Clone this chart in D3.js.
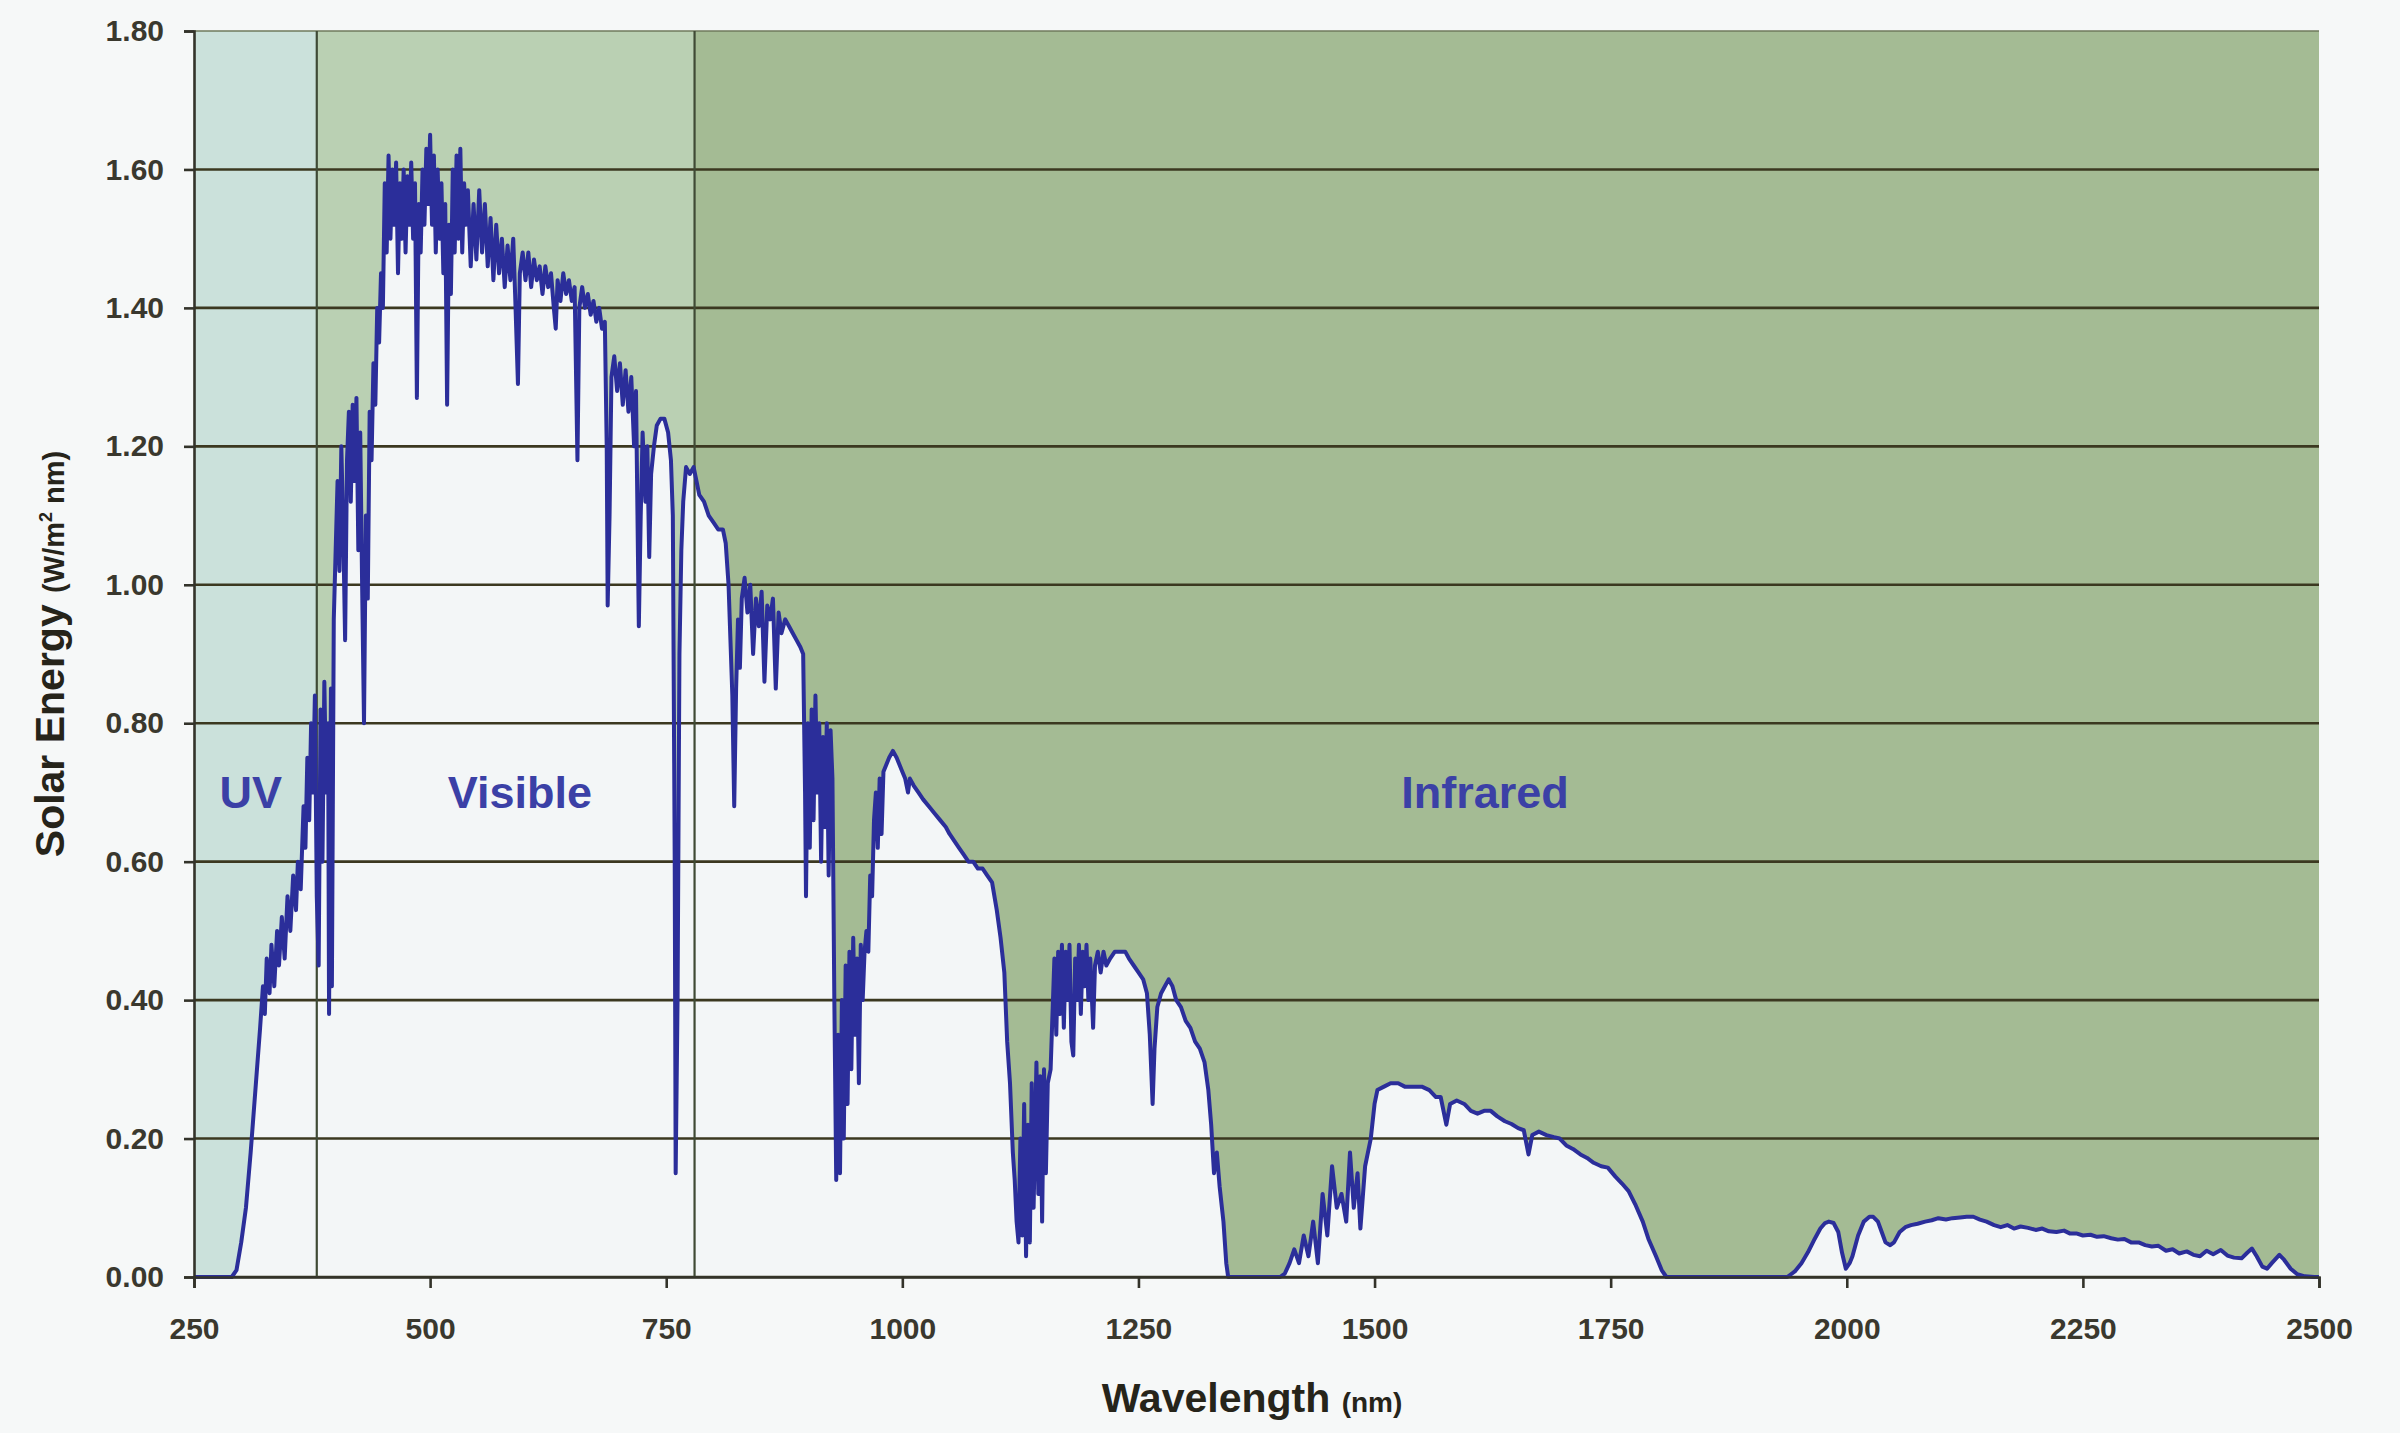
<!DOCTYPE html>
<html>
<head>
<meta charset="utf-8">
<script src="https://cdn.jsdelivr.net/npm/d3@7"></script>
<style>
  html, body { margin: 0; padding: 0; background: #f6f8f8; }
  svg { display: block; }
</style>
</head>
<body>
<svg id="chart" width="2400" height="1433"></svg>
<script>
// ---------- DATA ----------
const xTicks = [250, 500, 750, 1000, 1250, 1500, 1750, 2000, 2250, 2500];
const yTicks = [0, 0.2, 0.4, 0.6, 0.8, 1.0, 1.2, 1.4, 1.6, 1.8];
const bandNames = ["UV", "Visible", "Infrared"];
const bandEdges = [250, 380, 780, 2500];           // nm
const bandLabelAt = [310, 595, 1617];               // nm (label centre)
const bandLabelValue = 0.695;                       // W/m² nm

// spectrum: [wavelength nm, energy W/m² nm]
const spectrumUV = [
  [250,0],[280,0],[290,0],[295,0.01],[300,0.05],[305,0.10],[310,0.18],[315,0.27],[320,0.36],
  [323,0.42],[325,0.38],[327,0.46],[330,0.41],[332,0.48],[335,0.42],[338,0.50],[340,0.45],
  [343,0.52],[346,0.46],[349,0.55],[352,0.50],[355,0.58],[358,0.53],[360,0.60],[363,0.56],
  [366,0.68],[368,0.62],[370,0.75],[372,0.66],[374,0.80],[376,0.70],[378,0.84],[380,0.55]
];
const spectrumVisible = [
  [382,0.45],[384,0.82],[386,0.60],[388,0.86],[390,0.70],[392,0.80],[393,0.38],[395,0.85],
  [396,0.42],[398,0.95],[400,1.05],[402,1.15],[404,1.02],[406,1.20],[408,1.08],[410,0.92],
  [412,1.18],[414,1.25],[416,1.12],[418,1.26],[420,1.15],[422,1.27],[424,1.05],[426,1.22],
  [428,1.00],[430,0.80],[432,1.10],[434,0.98],[436,1.25],[438,1.18],[440,1.32],[442,1.26],
  [444,1.40],[446,1.35],[448,1.45],[450,1.40],[452,1.58],[454,1.48],[456,1.62],[458,1.50],
  [460,1.60],[462,1.52],[464,1.61],[466,1.45],[468,1.58],[470,1.50],[472,1.60],[474,1.48],
  [476,1.59],[478,1.52],[480,1.61],[482,1.50],[484,1.58],[486,1.27],[488,1.55],[490,1.48],
  [492,1.60],[494,1.52],[496,1.63],[498,1.55],[500,1.65],[502,1.52],[504,1.62],[506,1.48],
  [508,1.60],[510,1.50],[512,1.58],[514,1.45],[516,1.55],[518,1.26],[520,1.52],[522,1.42],
  [524,1.60],[526,1.48],[528,1.62],[530,1.50],[532,1.63],[534,1.48],[536,1.58],[538,1.52],
  [540,1.57],[543,1.46],[546,1.55],[549,1.47],[552,1.57],[555,1.48],[558,1.55],[561,1.46],
  [564,1.53],[567,1.44],[570,1.52],[573,1.45],[576,1.50],[579,1.43],[582,1.49],[585,1.44],
  [588,1.50],[590,1.42],[593,1.29],[595,1.45],[598,1.48],[601,1.44],[604,1.48],[607,1.43],
  [610,1.47],[613,1.44],[616,1.46],[619,1.42],[622,1.46],[625,1.43],[628,1.45],[631,1.40],
  [633,1.37],[635,1.44],[638,1.41],[641,1.45],[644,1.42],[647,1.44],[650,1.41],[653,1.43],
  [656,1.18],[658,1.40],[661,1.43],[664,1.40],[667,1.42],[670,1.39],[673,1.41],[676,1.38],
  [679,1.40],[682,1.37],[685,1.38],[687,1.20],[688,0.97],[690,1.10],[692,1.30],[695,1.33],
  [698,1.28],[701,1.32],[704,1.26],[707,1.31],[710,1.25],[713,1.30],[716,1.20],[718,1.28],
  [720,1.05],[721,0.94],[723,1.10],[725,1.22],[728,1.12],[730,1.20],[732,1.04],[734,1.16],
  [737,1.20],[740,1.23],[744,1.24],[748,1.24],[752,1.22],[755,1.18],[757,1.10],[759,0.60],
  [760,0.15],[762,0.40],[764,0.90],[766,1.05],[768,1.12],[771,1.17],[775,1.16],[779,1.17]
];
const spectrumNearIR = [
  [782,1.15],[785,1.13],[790,1.12],[795,1.10],[800,1.09],[805,1.08],[810,1.08],[813,1.06],
  [816,1.00],[818,0.92],[820,0.84],[822,0.68],[824,0.85],[826,0.95],[828,0.88],[830,0.98],
  [833,1.01],[836,0.96],[839,1.00],[842,0.90],[845,0.98],[848,0.94],[851,0.99],[854,0.86],
  [857,0.97],[860,0.95],[863,0.98],[866,0.85],[869,0.96],[872,0.93],[876,0.95],[880,0.94],
  [884,0.93],[888,0.92],[892,0.91],[895,0.90],[897,0.70],[898,0.55],[900,0.80],[902,0.62],
  [904,0.82],[906,0.66],[908,0.84],[910,0.70],[912,0.80],[914,0.60],[916,0.78],[918,0.65],
  [920,0.80],[922,0.58],[924,0.79],[926,0.72],[928,0.40],[930,0.14],[932,0.35],[934,0.15],
  [936,0.40],[938,0.20],[940,0.45],[942,0.25],[944,0.47],[946,0.30],[948,0.49],[950,0.35],
  [952,0.46],[954,0.28],[956,0.48],[958,0.40],[960,0.47],[962,0.50],[964,0.47],[966,0.58],
  [968,0.55],[970,0.66],[972,0.70],[974,0.62],[976,0.72],[978,0.64],[980,0.73],[983,0.74],
  [986,0.75],[990,0.76],[994,0.75],[997,0.74],[1000,0.73],[1003,0.72],[1006,0.70],[1008,0.72],
  [1012,0.71],[1017,0.70],[1022,0.69],[1028,0.68],[1034,0.67],[1040,0.66],[1046,0.65],[1050,0.64],
  [1055,0.63],[1060,0.62],[1065,0.61],[1070,0.60],[1075,0.60],[1080,0.59],[1085,0.59],[1090,0.58],
  [1095,0.57],[1100,0.53],[1104,0.49],[1108,0.44],[1111,0.34],[1114,0.28],[1117,0.18],[1119,0.14],
  [1121,0.08],[1123,0.05],[1125,0.20],[1127,0.06],[1129,0.25],[1131,0.03],[1133,0.22],[1135,0.05],
  [1137,0.28],[1139,0.10],[1142,0.31],[1144,0.12],[1146,0.29],[1148,0.08],[1150,0.30],[1152,0.15],
  [1154,0.28],[1157,0.30],[1159,0.38],[1161,0.46],[1163,0.35],[1165,0.47],[1167,0.38],[1169,0.48],
  [1171,0.36],[1173,0.47],[1175,0.40],[1177,0.48],[1179,0.34],[1181,0.32],[1183,0.46],[1185,0.40],
  [1187,0.48],[1189,0.38],[1191,0.47],[1193,0.42],[1195,0.48],[1197,0.40],[1199,0.46],[1202,0.36],
  [1204,0.45],[1207,0.47],[1210,0.44],[1213,0.47],[1216,0.45],[1220,0.46],[1225,0.47],[1230,0.47],
  [1236,0.47],[1240,0.46],[1245,0.45],[1250,0.44],[1255,0.43],[1259,0.41],[1262,0.35],[1265,0.25],
  [1267,0.33],[1270,0.39],[1274,0.41],[1278,0.42],[1282,0.43],[1286,0.42],[1290,0.40],[1295,0.39],
  [1300,0.37],[1305,0.36],[1310,0.34],[1315,0.33],[1320,0.31],[1324,0.27],[1327,0.22],[1330,0.15],
  [1333,0.18],[1336,0.13],[1340,0.08],[1343,0.02],[1345,0]
];
const spectrumFarIR = [
  [1400,0],[1405,0.005],[1410,0.02],[1415,0.04],[1420,0.02],[1425,0.06],[1430,0.03],[1435,0.08],
  [1440,0.02],[1445,0.12],[1450,0.06],[1455,0.16],[1460,0.10],[1465,0.12],[1470,0.08],[1474,0.18],
  [1478,0.10],[1482,0.15],[1485,0.07],[1490,0.16],[1496,0.20],[1500,0.25],[1503,0.27],[1510,0.275],
  [1517,0.28],[1525,0.28],[1532,0.275],[1540,0.275],[1550,0.275],[1558,0.27],[1565,0.26],[1570,0.26],
  [1576,0.22],[1580,0.25],[1587,0.255],[1595,0.25],[1602,0.24],[1609,0.236],[1616,0.24],[1623,0.24],
  [1630,0.232],[1638,0.225],[1645,0.221],[1652,0.215],[1658,0.212],[1663,0.177],[1667,0.205],[1674,0.21],
  [1682,0.205],[1690,0.202],[1696,0.20],[1703,0.19],[1710,0.185],[1718,0.177],[1725,0.172],[1732,0.165],
  [1740,0.16],[1747,0.158],[1755,0.145],[1762,0.135],[1769,0.124],[1776,0.105],[1784,0.08],[1790,0.055],
  [1798,0.03],[1804,0.01],[1809,0],[1937,0],[1945,0.008],[1952,0.02],[1959,0.036],[1966,0.055],
  [1972,0.07],[1977,0.078],[1981,0.08],[1986,0.078],[1991,0.065],[1995,0.035],[1999,0.012],[2003,0.02],
  [2006,0.03],[2012,0.06],[2018,0.08],[2024,0.087],[2028,0.087],[2033,0.08],[2037,0.065],[2041,0.05],
  [2046,0.046],[2050,0.05],[2056,0.065],[2062,0.072],[2068,0.075],[2075,0.077],[2083,0.08],[2090,0.082],
  [2097,0.085],[2105,0.083],[2112,0.085],[2120,0.086],[2127,0.087],[2134,0.087],[2141,0.083],[2148,0.08],
  [2156,0.075],[2163,0.072],[2170,0.075],[2177,0.07],[2184,0.073],[2192,0.071],[2200,0.068],[2207,0.07],
  [2214,0.066],[2222,0.065],[2230,0.067],[2236,0.063],[2243,0.063],[2250,0.06],[2258,0.061],[2265,0.058],
  [2272,0.059],[2280,0.056],[2287,0.054],[2294,0.055],[2301,0.05],[2309,0.05],[2316,0.046],[2323,0.044],
  [2330,0.045],[2338,0.038],[2345,0.04],[2352,0.034],[2360,0.037],[2367,0.032],[2374,0.03],[2381,0.038],
  [2388,0.033],[2396,0.039],[2403,0.031],[2410,0.028],[2418,0.027],[2424,0.035],[2429,0.041],[2434,0.03],
  [2440,0.015],[2445,0.012],[2450,0.02],[2458,0.032],[2463,0.025],[2470,0.012],[2477,0.004],[2485,0.001],
  [2495,0],[2500,0]
];

// ---------- STYLE ----------
const bandColors = ["#cbe1db", "#bad0b3", "#a4bb94"];
const underColor = "#f3f6f7";
const gridColor = "#3b3820";
const lineColor = "#2b2e9a";
const labelColor = "#3b40a6";
const textColor = "#3a382e";
const fontFamily = "'Liberation Sans', Arial, sans-serif";

// ---------- CHART ----------
const spectrum = spectrumUV.concat(spectrumVisible, spectrumNearIR, spectrumFarIR);
const svg = d3.select("#chart");
const W = 2400, H = 1433;
const plot = { left: 194, right: 2319, top: 31, bottom: 1277 };

const x = d3.scaleLinear().domain([250, 2500]).range([plot.left, plot.right]);
const y = d3.scaleLinear().domain([0, 1.8]).range([plot.bottom, plot.top]);

svg.append("rect").attr("width", W).attr("height", H).attr("fill", "#f6f8f8");

// band backgrounds
const bands = bandNames.map((n, i) => ({ name: n, from: bandEdges[i], to: bandEdges[i + 1], at: bandLabelAt[i], color: bandColors[i] }));
svg.append("g").selectAll("rect").data(bands).join("rect")
  .attr("x", d => x(d.from)).attr("width", d => x(d.to) - x(d.from))
  .attr("y", y(1.8)).attr("height", y(0) - y(1.8))
  .attr("fill", d => d.color);

// area under the curve
const area = d3.area().x(d => x(d[0])).y0(y(0)).y1(d => y(d[1]));
svg.append("path").datum(spectrum).attr("d", area).attr("fill", underColor);

// horizontal gridlines
svg.append("g").selectAll("line").data(yTicks).join("line")
  .attr("x1", x(250)).attr("x2", x(2500))
  .attr("y1", d => y(d)).attr("y2", d => y(d))
  .attr("stroke", d => d === 1.8 ? "#6f7a5c" : gridColor)
  .attr("stroke-width", d => d === 1.8 ? 1.5 : 2.6);

// band boundaries (vertical)
svg.append("g").selectAll("line").data(bandEdges.slice(1, -1)).join("line")
  .attr("x1", d => x(d)).attr("x2", d => x(d))
  .attr("y1", y(1.8)).attr("y2", y(0))
  .attr("stroke", "#3f4a35").attr("stroke-width", 2.2);

// spectrum line
const line = d3.line().x(d => x(d[0])).y(d => y(d[1]));
svg.append("path").datum(spectrum).attr("d", line)
  .attr("fill", "none").attr("stroke", lineColor)
  .attr("stroke-width", 4).attr("stroke-linejoin", "round");

// axes
const yAxis = d3.axisLeft(y).tickValues(yTicks).tickFormat(d3.format(".2f")).tickSize(10).tickPadding(20);
const gy = svg.append("g").attr("transform", `translate(${plot.left},0)`).call(yAxis);
const xAxis = d3.axisBottom(x).tickValues(xTicks).tickFormat(d3.format("d")).tickSize(11).tickPadding(30);
const gx = svg.append("g").attr("transform", `translate(0,${plot.bottom})`).call(xAxis);
[gx, gy].forEach(g => {
  g.select(".domain").attr("stroke", "#33332a").attr("stroke-width", 2.6);
  g.selectAll(".tick line").attr("stroke", "#33332a").attr("stroke-width", 2.6);
  g.selectAll(".tick text")
    .attr("fill", textColor)
    .style("font-family", fontFamily)
    .style("font-weight", "bold").style("font-size", "30px");
});

// band labels
svg.append("g").selectAll("text").data(bands).join("text")
  .attr("x", d => x(d.at)).attr("y", y(bandLabelValue))
  .attr("text-anchor", "middle").attr("dominant-baseline", "middle")
  .attr("fill", labelColor)
  .style("font-family", fontFamily)
  .style("font-weight", "bold").style("font-size", "45px")
  .text(d => d.name);

// axis titles
const xt = svg.append("text")
  .attr("x", 1252).attr("y", 1412)
  .attr("text-anchor", "middle").attr("fill", "#26241a")
  .style("font-family", fontFamily).style("font-weight", "bold");
xt.append("tspan").style("font-size", "41px").text("Wavelength ");
xt.append("tspan").style("font-size", "28px").text("(nm)");

const yt = svg.append("text")
  .attr("transform", `translate(64,654) rotate(-90)`)
  .attr("text-anchor", "middle").attr("fill", "#26241a")
  .style("font-family", fontFamily).style("font-weight", "bold");
yt.append("tspan").style("font-size", "41px").text("Solar Energy ");
yt.append("tspan").style("font-size", "29px").text("(W/m");
yt.append("tspan").style("font-size", "18px").attr("dy", -12).text("2");
yt.append("tspan").style("font-size", "29px").attr("dy", 12).text(" nm)");
</script>
</body>
</html>
